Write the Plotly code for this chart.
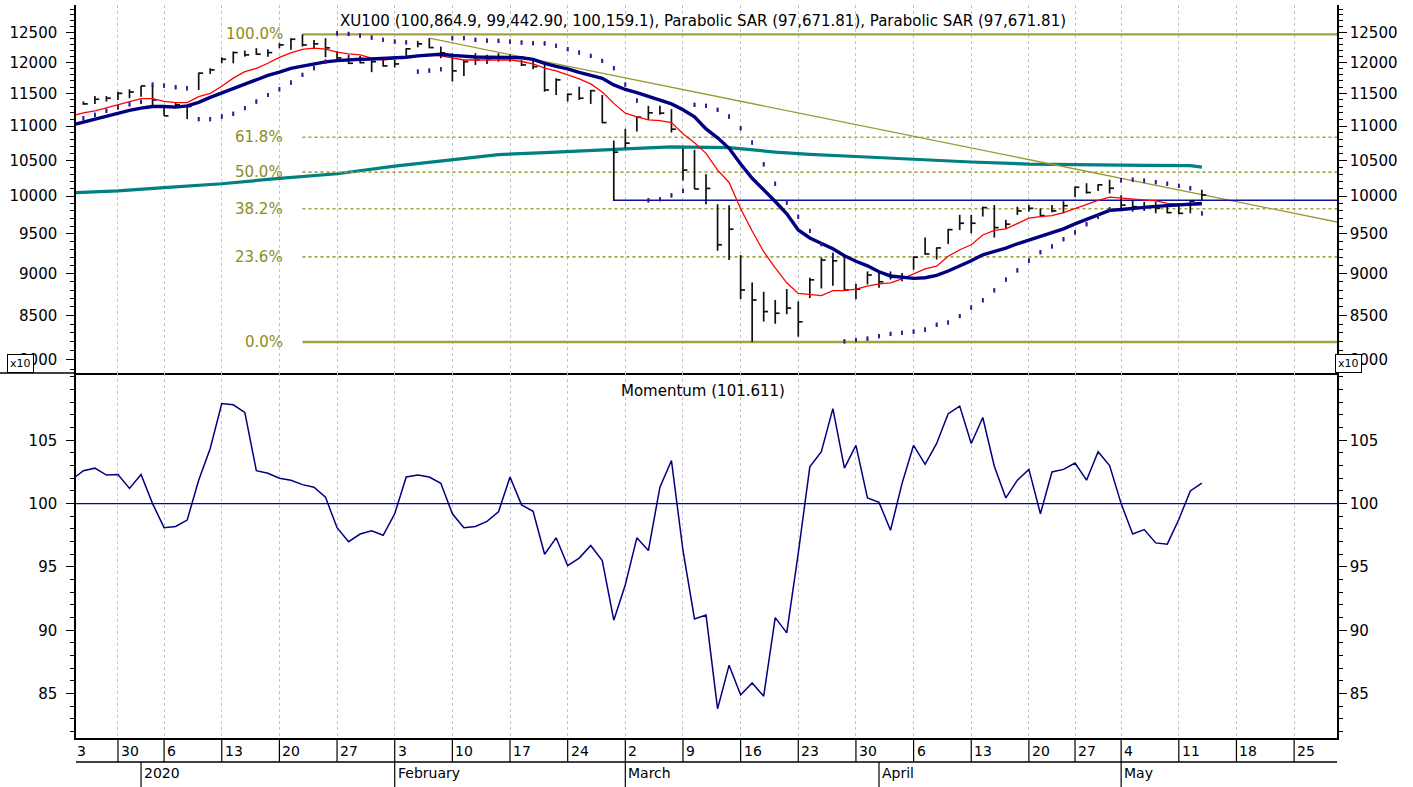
import math
import plotly.graph_objects as go

# ---------------- data (displayed units, x10) ----------------
day_idx = list(range(-3, 95))
high = [11378, 11462, 11462, 11529, 11567, 11620, 11636, 11298, 11359, 11324,
        11833, 11904, 12083, 12177, 12193, 12233, 12217, 12317, 12400, 12466,
        12372, 12400, 12188, 12122, 12105, 12027, 12038, 12038, 12233, 12355,
        12400, 12260, 12150, 12038, 12150, 12122, 12150, 12122, 12038, 12038,
        11957, 11744, 11503, 11608, 11556, 11477, 10787, 10962, 11145, 11309,
        11309, 11258, 10676, 10651, 10303, 9891, 9878, 9229, 8891, 8780,
        8681, 8812, 8664, 8950, 9199, 9242, 9208, 8875, 9026, 9025,
        9026, 9006, 9214, 9452, 9326, 9564, 9748, 9748, 9858, 9879,
        9682, 9858, 9879, 9836, 9879, 9932, 10131, 10178, 10165, 10227,
        10013, 9946, 9923, 9923, 9879, 9879, 9946, 10086.5]
low = [11324, 11339, 11375, 11401, 11427, 11451, 11309, 11156, 11274, 11106,
       11556, 11812, 11984, 11984, 12093, 12122, 12093, 12233, 12205, 12260,
       12233, 12083, 12022, 11973, 11984, 11840, 11929, 11917, 12080, 12247,
       12233, 12067, 11689, 11780, 11957, 11973, 12010, 12010, 11941, 11888,
       11529, 11477, 11375, 11401, 11339, 11044, 9935, 10676, 10919, 11095,
       11171, 10905, 10217, 10098, 9891, 9283, 9166, 8693, 8199, 8430,
       8405, 8514, 8258, 8705, 8819, 8851, 8800, 8691, 8867, 8827,
       8926, 8907, 9047, 9234, 9173, 9368, 9550, 9507, 9726, 9452,
       9564, 9748, 9792, 9726, 9782, 9769, 9989, 10036, 10069, 10036,
       9836, 9792, 9801, 9769, 9769, 9756, 9769, 9944.3]
close = [11339, 11411, 11427, 11503, 11524, 11620, 11401, 11156, 11324, 11298,
         11824, 11877, 12050, 12160, 12122, 12133, 12160, 12288, 12383, 12288,
         12305, 12238, 12072, 11984, 11994, 12010, 11941, 11973, 12222, 12305,
         12243, 12155, 11861, 12010, 12038, 12050, 12067, 12067, 11957, 11929,
         11556, 11716, 11488, 11427, 11545, 11054, 10617, 10749, 11136, 11202,
         11197, 10955, 10361, 10098, 10106, 9359, 9560, 8800, 8681, 8545,
         8526, 8586, 8427, 8923, 9166, 9157, 8800, 8810, 8982, 8899,
         8954, 8946, 9202, 9243, 9319, 9554, 9638, 9638, 9845, 9581,
         9625, 9801, 9836, 9739, 9801, 9871, 10122, 10050, 10155, 10108,
         9879, 9858, 9858, 9836, 9778, 9769, 9932, 10015.9]

line_idx = list(range(-4, 95))
ma_fast = [11156, 11202, 11232, 11278, 11317, 11370, 11420, 11420, 11378, 11359,
           11359, 11451, 11503, 11615, 11744, 11849, 11901, 11984, 12080, 12155,
           12213, 12233, 12218, 12167, 12138, 12122, 12067, 12038, 12058, 12088,
           12108, 12130, 12105, 12067, 12038, 12038, 12038, 12038, 12038, 12013,
           11973, 11904, 11861, 11796, 11732, 11652, 11524, 11347, 11197, 11141,
           11095, 11084, 11054, 10886, 10754, 10600, 10361, 10188, 9829, 9537,
           9271, 9069, 8887, 8760, 8744, 8732, 8792, 8792, 8810, 8848,
           8875, 8887, 8935, 8994, 9057, 9090, 9214, 9296, 9359, 9485,
           9544, 9564, 9638, 9704, 9726, 9739, 9779, 9836, 9889, 9942,
           9988, 9977, 9967, 9954, 9935, 9902, 9889, 9886, 9885]
ma_slow = [11018, 11064, 11102, 11156, 11202, 11240, 11274, 11298, 11298, 11289,
           11309, 11362, 11439, 11508, 11580, 11660, 11724, 11788, 11840, 11901,
           11937, 11978, 12008, 12027, 12042, 12050, 12053, 12060, 12067, 12083,
           12105, 12122, 12133, 12113, 12097, 12088, 12083, 12083, 12083, 12075,
           12047, 11981, 11933, 11893, 11836, 11788, 11740, 11636, 11564, 11516,
           11454, 11393, 11339, 11248, 11141, 10959, 10827, 10673, 10447, 10246,
           10088, 9928, 9763, 9550, 9447, 9372, 9309, 9220, 9151, 9095,
           9021, 8970, 8952, 8941, 8949, 8977, 9031, 9090, 9158, 9233,
           9271, 9316, 9372, 9422, 9472, 9517, 9564, 9630, 9690, 9749,
           9809, 9820, 9829, 9848, 9862, 9871, 9875, 9890, 9900]
momentum = [101.9, 102.6, 102.8, 102.25, 102.3, 101.2, 102.3, 100.0, 98.1, 98.2,
            98.7, 101.85, 104.35, 107.9, 107.8, 107.2, 102.6, 102.4, 102.0, 101.85,
            101.5, 101.3, 100.5, 98.1, 97.0, 97.6, 97.85, 97.5, 99.2, 102.1,
            102.25, 102.1, 101.6, 99.2, 98.1, 98.2, 98.6, 99.35, 102.1, 99.9,
            99.4, 96.0, 97.3, 95.1, 95.7, 96.7, 95.5, 90.8, 93.6, 97.3,
            96.3, 101.3, 103.4, 96.3, 90.9, 91.2, 83.8, 87.25, 84.9, 85.85,
            84.8, 91.0, 89.8, 96.1, 102.9, 104.1, 107.5, 102.8, 104.6, 100.45,
            100.1, 97.9, 101.6, 104.6, 103.1, 104.75, 107.1, 107.7, 104.75, 106.8,
            102.95, 100.45, 101.85, 102.7, 99.2, 102.5, 102.7, 103.2, 101.85, 104.1,
            103.0, 100.0, 97.6, 97.95, 96.9, 96.8, 98.75, 101.0, 101.611]

sar = [11121, 11171, 11232, 11286, 11332, 11370, 11641, 11625, 11599, 11583,
       11106, 11106, 11145, 11187, 11274, 11375, 11477, 11567, 11673, 11796,
       11904, 12010, 12483, 12472, 12443, 12410, 12372, 12343, 12330, 11849,
       11865, 11888, 12400, 12400, 12372, 12360, 12355, 12343, 12327, 12317,
       12313, 12272, 12217, 12160, 12105, 12022, 11904, 11641, 11390, 9944,
       9958, 10011, 10073, 11324, 11309, 11248, 11145, 10969, 10758, 10443,
       10170, 9912, 9723, 9537, 9368, 9233, 8206, 8221, 8236, 8264,
       8289, 8300, 8315, 8337, 8393, 8419, 8493, 8592, 8678, 8797,
       8926, 9039, 9160, 9265, 9339, 9431, 9520, 9625, 9726, 9822,
       10217, 10227, 10213, 10193, 10170, 10141, 10108, 9769]

teal_idx = [-4, 0, 4, 9, 14, 19, 24, 28, 33, 37, 41, 45, 48, 53, 57, 60, 64, 69, 74, 79, 84, 89, 93, 94]
teal_val = [10045, 10073, 10116, 10170, 10246, 10310, 10418, 10490, 10583, 10612, 10648, 10673,
            10694, 10684, 10619, 10586, 10555, 10512, 10476, 10447, 10433, 10428, 10424, 10404]

fib_start_idx = 16
fib_high = 12466
fib_low = 8199
fib_ratios = [1.0, 0.618, 0.5, 0.382, 0.236, 0.0]
fib_labels = ["100.0%", "61.8%", "50.0%", "38.2%", "23.6%", "0.0%"]

trend_idx = [27, 105.72]
trend_val = [12400, 9654]

hline_idx = [43, 105.72]
hline_val = [9943.5, 9943.5]

week_idx = [-5, 0, 4, 9, 14, 19, 24, 29, 34, 39, 44, 49, 54, 59, 64, 69, 74, 79, 83, 87, 92, 97, 102]
week_lbl = ['23', '30', '6', '13', '20', '27', '3', '10', '17', '24', '2', '9', '16', '23', '30',
            '6', '13', '20', '27', '4', '11', '18', '25']
month_idx = [2, 24, 44, 66, 87]
month_lbl = ['2020', 'February', 'March', 'April', 'May']

price_ticks = [8000, 8500, 9000, 9500, 10000, 10500, 11000, 11500, 12000, 12500]
price_minor = list(range(7900, 13000, 100))
mom_ticks = [85, 90, 95, 100, 105]
mom_minor = list(range(82, 111))

title_txt = "XU100 (100,864.9, 99,442.90, 100,159.1), Parabolic SAR (97,671.81), Parabolic SAR (97,671.81)"
mom_txt = "Momentum (101.611)"

# ---------------- figure ----------------
X0, X1 = -3.64, 105.72
P_LO, P_HI = 7859.5, 12974
M_LO, M_HI = 81.5, 110.31
SPLIT = 0.49795
FONT = "DejaVu Sans"

OLIVE_LINE = "#a3a343"
OLIVE_TXT = "#8c8c22"

fig = go.Figure()

# long MA (teal)
fig.add_trace(go.Scatter(x=teal_idx, y=teal_val, mode="lines",
                         line=dict(color="#008080", width=3.2), hoverinfo="skip"))

# fib lines
fib_levels = [fib_low + r * (fib_high - fib_low) for r in fib_ratios]
for r, lv in zip(fib_ratios, fib_levels):
    solid = r in (0.0, 1.0)
    fig.add_trace(go.Scatter(x=[fib_start_idx, X1], y=[lv, lv], mode="lines",
                             line=dict(color=OLIVE_LINE, width=2.4 if solid else 1.6,
                                       dash="solid" if solid else "dot"),
                             hoverinfo="skip"))

# trend line
fig.add_trace(go.Scatter(x=trend_idx, y=trend_val, mode="lines",
                         line=dict(color="#9a9a30", width=1.3), hoverinfo="skip"))
# horizontal blue line
fig.add_trace(go.Scatter(x=hline_idx, y=hline_val, mode="lines",
                         line=dict(color="#1010a0", width=1.6), hoverinfo="skip"))

# HLC bars
bx, by = [], []
for i, h, l, c in zip(day_idx, high, low, close):
    bx += [i, i, None, i, i + 0.38, None]
    by += [l, h, None, c, c, None]
fig.add_trace(go.Scatter(x=bx, y=by, mode="lines", line=dict(color="#111111", width=1.7),
                         connectgaps=False, hoverinfo="skip"))

# moving averages
fig.add_trace(go.Scatter(x=line_idx, y=ma_fast, mode="lines",
                         line=dict(color="#ff0000", width=1.3), hoverinfo="skip"))
fig.add_trace(go.Scatter(x=line_idx, y=ma_slow, mode="lines",
                         line=dict(color="#000080", width=3.4), hoverinfo="skip"))

# parabolic SAR (two identical series)
for _ in range(2):
    fig.add_trace(go.Scatter(x=day_idx, y=sar, mode="markers",
                             marker=dict(symbol="line-ns", size=3,
                                         line=dict(color="#3d1591", width=1.7)),
                             hoverinfo="skip"))

# dummy for right price axis
fig.add_trace(go.Scatter(x=[0], y=[10000], yaxis="y2", mode="markers",
                         marker=dict(opacity=0), hoverinfo="skip"))

# momentum panel
fig.add_trace(go.Scatter(x=[X0, X1], y=[100, 100], xaxis="x2", yaxis="y3", mode="lines",
                         line=dict(color="#0000cc", width=1.3), hoverinfo="skip"))
fig.add_trace(go.Scatter(x=line_idx, y=momentum, xaxis="x2", yaxis="y3", mode="lines",
                         line=dict(color="#000080", width=1.5), hoverinfo="skip"))
fig.add_trace(go.Scatter(x=[0], y=[100], xaxis="x2", yaxis="y4", mode="markers",
                         marker=dict(opacity=0), hoverinfo="skip"))

grid_ticks = [w for w in week_idx if X0 <= w <= X1]

xcommon = dict(range=[X0, X1], tickmode="array", tickvals=grid_ticks, showticklabels=False,
               ticks="", showgrid=True, gridcolor="#c4c4c4", griddash="dot", gridwidth=1,
               showline=True, linecolor="black", linewidth=1.5, zeroline=False, fixedrange=True)

def yax(**kw):
    d = dict(ticks="outside", ticklen=8, tickwidth=1, tickcolor="black", showline=True,
             linecolor="black", linewidth=1.5, showgrid=False, zeroline=False,
             tickfont=dict(family=FONT, size=15, color="black"), fixedrange=True)
    d.update(kw)
    return d

price_axis = dict(type="log", range=[math.log10(P_LO), math.log10(P_HI)],
                  tickmode="array", tickvals=price_ticks, ticktext=[str(t) for t in price_ticks],
                  minor=dict(tickmode="array", tickvals=price_minor, ticks="outside", ticklen=4,
                             tickcolor="black", showgrid=False))
mom_axis = dict(range=[M_LO, M_HI], tickmode="array", tickvals=mom_ticks,
                ticktext=[str(t) for t in mom_ticks],
                minor=dict(tickmode="array", tickvals=mom_minor, ticks="outside", ticklen=4,
                           tickcolor="black", showgrid=False))

fig.update_layout(
    width=1413, height=787,
    margin=dict(l=76, r=76, t=5, b=49),
    paper_bgcolor="white", plot_bgcolor="white", showlegend=False,
    font=dict(family=FONT, size=15, color="black"),
    xaxis=dict(domain=[0, 1], anchor="y", **xcommon),
    xaxis2=dict(domain=[0, 1], anchor="y3", matches="x", **xcommon),
    yaxis=yax(domain=[SPLIT, 1], anchor="x", side="left", ticklabelstandoff=6, **price_axis),
    yaxis2=yax(domain=[SPLIT, 1], anchor="x", overlaying="y", side="right", **price_axis),
    yaxis3=yax(domain=[0, SPLIT], anchor="x2", side="left", ticklabelstandoff=6, **mom_axis),
    yaxis4=yax(domain=[0, SPLIT], anchor="x2", overlaying="y3", side="right", **mom_axis),
)

ann = []
shapes = []
# titles
ann.append(dict(xref="paper", yref="paper", x=0.4976, y=0.978, text=title_txt, showarrow=False,
                font=dict(family=FONT, size=15, color="black"), xanchor="center", yanchor="middle"))
ann.append(dict(xref="paper", yref="paper", x=0.4976, y=0.4734, text=mom_txt, showarrow=False,
                font=dict(family=FONT, size=15, color="black"), xanchor="center", yanchor="middle"))
# fib labels
for lbl, lv in zip(fib_labels, fib_levels):
    ann.append(dict(xref="x", yref="y", x=fib_start_idx - 1.5, y=math.log10(lv), text=lbl,
                    showarrow=False, xanchor="right", yanchor="middle",
                    font=dict(family=FONT, size=15, color=OLIVE_TXT)))
# x10 boxes
for px in (-0.0444, 1.0095):
    ann.append(dict(xref="paper", yref="paper", x=px, y=0.5105, text="x10", showarrow=False,
                    xanchor="center", yanchor="middle", bgcolor="white", bordercolor="black",
                    borderwidth=1, borderpad=2, font=dict(family=FONT, size=11, color="black")))

ROW1 = -0.0327
ROW2 = -0.0668
LBL1 = -0.0180
LBL2 = -0.0480
# week labels and separators
for w, t in zip(week_idx, week_lbl):
    if w < X0:
        ann.append(dict(xref="paper", yref="paper", x=0, y=LBL1, text=t[-1], showarrow=False,
                        xanchor="left", yanchor="middle", xshift=-1,
                        font=dict(family=FONT, size=14, color="black")))
        continue
    shapes.append(dict(type="line", xref="x", yref="paper", x0=w, x1=w, y0=0, y1=ROW1,
                       line=dict(color="black", width=1.2)))
    ann.append(dict(xref="x", yref="paper", x=w, y=LBL1, text=t, showarrow=False,
                    xanchor="left", yanchor="middle", xshift=1,
                    font=dict(family=FONT, size=14, color="black")))
shapes.append(dict(type="line", xref="paper", yref="paper", x0=0, x1=1, y0=ROW1, y1=ROW1,
                   line=dict(color="black", width=1.5)))
for m, t in zip(month_idx, month_lbl):
    shapes.append(dict(type="line", xref="x", yref="paper", x0=m, x1=m, y0=ROW1, y1=ROW2,
                       line=dict(color="black", width=1.2)))
    ann.append(dict(xref="x", yref="paper", x=m, y=LBL2, text=t, showarrow=False,
                    xanchor="left", yanchor="middle", xshift=1,
                    font=dict(family=FONT, size=14, color="black")))
# panel separator extension to the left edge
shapes.append(dict(type="line", xref="paper", yref="paper", x0=-76 / 1261, x1=0, y0=SPLIT, y1=SPLIT,
                   line=dict(color="black", width=1.5)))

fig.update_layout(annotations=ann, shapes=shapes)
fig.write_html("out.html", config={"displayModeBar": False},
               post_script="document.body.style.margin='0px';")
